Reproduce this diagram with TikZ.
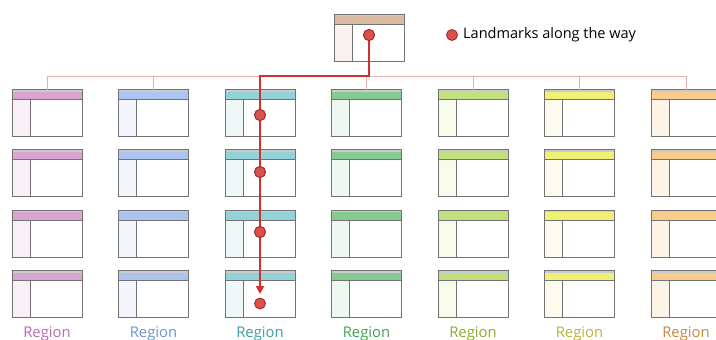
\documentclass[tikz,border=0pt]{standalone}
\usepackage{fontspec}
\setmainfont{Open Sans}
\usetikzlibrary{arrows.meta,calc}

% band / column tints for each region
\definecolor{bandA}{HTML}{D9A3D2}\definecolor{colA}{HTML}{FBEFF7}\definecolor{txtA}{HTML}{B86BB0}
\definecolor{bandB}{HTML}{ABC5F0}\definecolor{colB}{HTML}{F2F5FD}\definecolor{txtB}{HTML}{6D8FD6}
\definecolor{bandC}{HTML}{93D2D8}\definecolor{colC}{HTML}{EEF8F9}\definecolor{txtC}{HTML}{3A9F9F}
\definecolor{bandD}{HTML}{86C991}\definecolor{colD}{HTML}{EEF7F0}\definecolor{txtD}{HTML}{3FA052}
\definecolor{bandE}{HTML}{C3E07F}\definecolor{colE}{HTML}{F7FBEC}\definecolor{txtE}{HTML}{8AAB2E}
\definecolor{bandF}{HTML}{F0F074}\definecolor{colF}{HTML}{FDFBEE}\definecolor{txtF}{HTML}{BDB03A}
\definecolor{bandG}{HTML}{F8CD8C}\definecolor{colG}{HTML}{FDF3E6}\definecolor{txtG}{HTML}{C8883A}
\definecolor{bandT}{HTML}{D9B9A2}\definecolor{colT}{HTML}{F8F1EF}
\definecolor{frame}{HTML}{727272}
\definecolor{strip}{HTML}{C9CBCC}
\definecolor{treeline}{HTML}{E5AFAF}
\definecolor{routered}{HTML}{D0312F}
\definecolor{dotfill}{HTML}{D9504C}
\definecolor{dotedge}{HTML}{A02424}

\tikzset{
  winbox/.style 2 args={draw=frame, line width=1pt, fill=white,
    minimum width=70pt, minimum height=47pt, inner sep=0pt, outer sep=0pt,
    path picture={
      \fill[strip] (path picture bounding box.north west)
        rectangle ([yshift=-2pt]path picture bounding box.north east);
      \fill[#1] ([yshift=-2pt]path picture bounding box.north west)
        rectangle ([yshift=-10pt]path picture bounding box.north east);
      \fill[#2] ([yshift=-10pt]path picture bounding box.north west)
        rectangle ([xshift=18pt]path picture bounding box.south west);
      \draw[frame, line width=0.9pt]
        ([yshift=-10pt]path picture bounding box.north west)
        -- ([yshift=-10pt]path picture bounding box.north east);
      \draw[frame, line width=0.9pt]
        ([xshift=18pt,yshift=-10pt]path picture bounding box.north west)
        -- ([xshift=18pt]path picture bounding box.south west);
    }},
  treeedge/.style={draw=treeline, line width=1pt},
  route/.style={draw=routered, line width=2.3pt},
  landmark/.style={circle, fill=dotfill, draw=dotedge, line width=0.8pt,
    minimum size=11pt, inner sep=0pt},
  regionlabel/.style={font=\fontsize{14.8}{17}\selectfont, anchor=center},
}

\begin{document}
\begin{tikzpicture}[x=1pt, y=-1pt]
  \useasboundingbox (0,0) rectangle (716,340);
  \clip (0,0) rectangle (716,340);

  % root window
  \node[winbox={bandT}{colT}] (top) at (369,37.5) {};

  % grid of region windows: 7 columns x 4 rows
  \foreach \c/\b/\f [count=\i] in {A/bandA/colA, B/bandB/colB, C/bandC/colC,
      D/bandD/colD, E/bandE/colE, F/bandF/colF, G/bandG/colG} {
    \foreach \j in {1,...,4} {
      \node[winbox={\b}{\f}] (b\i\j) at ({47+106.5*(\i-1)}, {113+60.4*(\j-1)}) {};
    }
    \node[regionlabel, text=txt\c] (lab\i) at ({47+106.5*(\i-1)}, 333.5) {Region};
  }

  % tree from the root to each column
  \coordinate (busL) at (47,76);
  \coordinate (busR) at (686,76);
  \draw[treeedge] (busL) -- (busR);
  \draw[treeedge] (top.south) -- (top.south |- busL);
  \foreach \i in {1,...,7} {
    \draw[treeedge] (b\i1.north) -- (b\i1.north |- busL);
  }

  % landmarks
  \node[landmark] (d0) at (369,35) {};
  \node[landmark] (d1) at (260,115) {};
  \node[landmark] (d2) at (260,172) {};
  \node[landmark] (d3) at (260,232) {};
  \node[landmark] (d4) at (260,303.5) {};
  \coordinate (tip) at (260,294);

  % route through the landmarks, with the dots redrawn on top
  \draw[route, -{Triangle[length=8pt, width=8pt]}]
    (d0.center) -- (d0.center |- busL) -| (tip);
  \foreach \k in {0,...,3} {
    \node[landmark] at (d\k) {};
  }

  % legend
  \node[landmark] (legdot) at (452,35) {};
  \node[anchor=west, font=\fontsize{14.5}{17}\selectfont, inner sep=0pt]
    (legtext) at (463,35) {Landmarks along the way};
\end{tikzpicture}
\end{document}
